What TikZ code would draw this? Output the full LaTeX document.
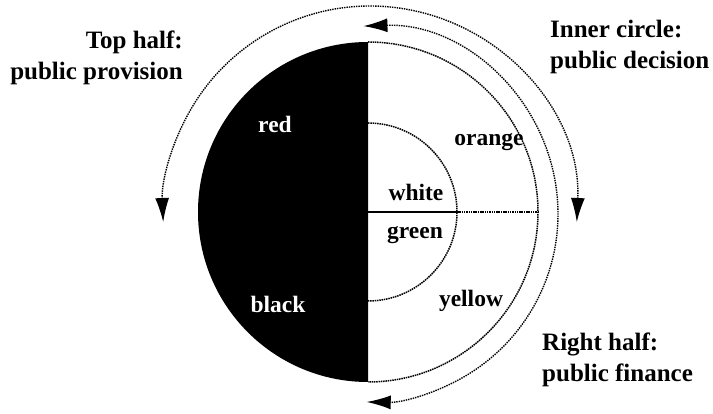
\documentclass[tikz,border=0pt]{standalone}
\usepackage{fontspec}
\setmainfont{Liberation Serif}
\usetikzlibrary{arrows.meta}
\begin{document}
\begin{tikzpicture}[x=1pt,y=1pt,
  lbl/.style={font=\bfseries\fontsize{25}{30.5}\selectfont, inner sep=0pt},
  inlbl/.style={font=\bfseries\fontsize{23.5}{28}\selectfont, inner sep=0pt},
  ring/.style={line width=1.5pt, dash pattern=on 1.5pt off 0.8pt},
  arr/.style={line width=1.4pt, dash pattern=on 1.4pt off 1pt, {Latex[length=24pt,width=14pt]}-{Latex[length=24pt,width=14pt]}}]
\useasboundingbox (0,0) rectangle (713,414);
\coordinate (C) at (368,202);
\coordinate (Ctop) at (368,372);
\coordinate (Cin) at (368,291);
\coordinate (Iright) at (457,202);
\coordinate (Oright) at (538,202);
% black left half
\fill[black] (Ctop) arc[start angle=90,end angle=270,radius=170] -- cycle;
% right half outer arc
\draw[ring] (Ctop) arc[start angle=90,end angle=-90,radius=170];
% inner semicircle
\draw[ring] (Cin) arc[start angle=90,end angle=-90,radius=89];
% horizontal divider
\draw[line width=1.5pt] (C) -- (Iright);
\draw[ring] (Iright) -- (Oright);
% top-half arrow
\coordinate (Astart) at ({370+207*cos(-2.5)},{201+207*sin(-2.5)});
\draw[arr] (Astart) arc[start angle=-2.5,end angle=182.5,radius=207];
% right-half arrow
\coordinate (Bstart) at ({370+188*cos(92)},{200+188*sin(92)});
\draw[arr] (Bstart) arc[start angle=92,end angle=-91,radius=188];
% labels
\node[lbl,anchor=north east,align=right] (top) at (183,383) {Top half:\\public provision};
\node[lbl,anchor=north west,align=left] (inner) at (550,394) {Inner circle:\\public decision};
\node[lbl,anchor=north west,align=left] (right) at (542,81) {Right half:\\public finance};
\node[inlbl,text=white] (red) at (275,290) {red};
\node[inlbl,text=white] (black) at (278,110) {black};
\node[inlbl] (orange) at (489,272) {orange};
\node[inlbl] (white) at (416,222) {white};
\node[inlbl] (green) at (415,179) {green};
\node[inlbl] (yellow) at (471,113) {yellow};
\end{tikzpicture}
\end{document}
